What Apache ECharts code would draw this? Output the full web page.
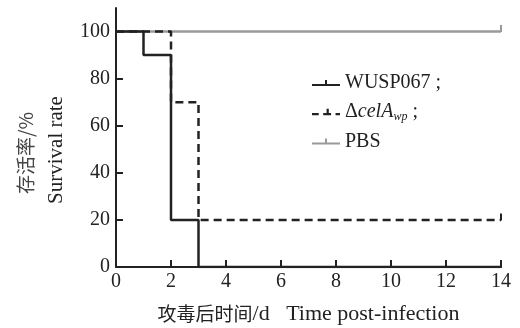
<!DOCTYPE html>
<html lang="zh">
<head>
    <meta charset="UTF-8">
    <script src="https://cdn.jsdelivr.net/npm/echarts@6/dist/echarts.min.js"></script>
    <style>
        html, body { margin: 0; padding: 0; background: #fff; }
        #chart { width: 520px; height: 328px; }
    </style>
</head>
<body>
<div id="chart"></div>
<script>
    // 存活曲线数据 (天, 存活率%)
    var days = [0, 1, 2, 3, 14];
    var wusp = [100, 90, 20, 0, 0];
    var delta = [100, 100, 70, 20, 20];
    var pbs = [100, 100, 100, 100, 100];
    var yTicks = [0, 20, 40, 60, 80, 100];
    var names = ['WUSP067', 'ΔcelA', 'PBS'];

    var serif = "'Liberation Serif', 'Noto Sans CJK SC', serif";
    var cjk = "'Noto Sans CJK SC', serif";
    var censor = 'path://M0,0 L2,0 L2,8 L0,8 Z';
    // 图例图标: 线段 + 截尾刻度
    var iconSolid = 'path://M0,8 L28,8 L28,10 L0,10 Z M13,4 L15,4 L15,8 L13,8 Z';
    var iconDash = 'path://M0,8 L6,8 L6,10 L0,10 Z M10,8 L17,8 L17,10 L10,10 Z M13,4 L15,4 L15,8 L13,8 Z M21,8 L25,8 L25,10 L21,10 Z';

    function pts(vals) {
        return days.map(function (d, i) {
            var last = i === days.length - 1;
            return {
                value: [d, vals[i]],
                symbol: last ? censor : 'none',
                symbolSize: last ? [2, 7] : 0
            };
        });
    }

    var mCharts = echarts.init(document.getElementById('chart'));
    var option = {
        animation: false,
        grid: { left: 116, right: 19, top: 8, bottom: 61, outerBoundsMode: 'none' },
        xAxis: {
            type: 'value',
            min: 0, max: 14, interval: 2,
            name: '{c|攻毒后时间}{l|/d   Time post-infection}',
            nameLocation: 'middle',
            nameGap: 36,
            nameTextStyle: {
                rich: {
                    c: { fontFamily: cjk, fontSize: 19, color: '#222' },
                    l: { fontFamily: serif, fontSize: 22, color: '#222' }
                }
            },
            axisLine: { lineStyle: { color: '#222', width: 2 } },
            axisTick: { inside: true, length: 7, lineStyle: { color: '#222', width: 2 } },
            axisLabel: { fontFamily: serif, fontSize: 20, color: '#222', margin: 5 },
            splitLine: { show: false }
        },
        yAxis: {
            type: 'value',
            min: 0, max: 110,
            axisLine: { show: true, lineStyle: { color: '#222', width: 2 } },
            axisTick: { show: true, inside: true, length: 7, customValues: yTicks, lineStyle: { color: '#222', width: 2 } },
            axisLabel: { fontFamily: serif, fontSize: 20, color: '#222', margin: 6, customValues: yTicks },
            splitLine: { show: false }
        },
        graphic: [
            {
                type: 'text', x: 26, y: 153, rotation: Math.PI / 2,
                style: { text: '存活率/%', font: '19px ' + cjk, fill: '#444', align: 'center', verticalAlign: 'middle' }
            },
            {
                type: 'text', x: 56, y: 150, rotation: Math.PI / 2,
                style: { text: 'Survival rate', font: '21px ' + serif, fill: '#222', align: 'center', verticalAlign: 'middle' }
            }
        ],
        legend: {
            orient: 'vertical',
            left: 307, top: 68,
            itemWidth: 28, itemHeight: 12, itemGap: 9,
            data: [
                { name: names[0], icon: iconSolid },
                { name: names[1], icon: iconDash },
                { name: names[2], icon: iconSolid }
            ],
            textStyle: {
                fontFamily: serif, fontSize: 20, color: '#222',
                rich: {
                    n: { fontFamily: serif, fontSize: 20, color: '#222' },
                    i: { fontFamily: serif, fontSize: 20, fontStyle: 'italic', color: '#222' },
                    s: { fontFamily: serif, fontSize: 12, fontStyle: 'italic', color: '#222', padding: [9, 0, 0, 0] }
                }
            },
            formatter: function (name) {
                if (name === 'ΔcelA') return '{n|Δ}{i|celA}{s|wp}{n| ;}';
                if (name === 'WUSP067') return '{n|WUSP067 ;}';
                return '{n|' + name + '}';
            }
        },
        series: [
            {
                name: names[2], type: 'line', step: 'end',
                symbol: censor, symbolSize: [2, 7], symbolOffset: [0, -3],
                data: pts(pbs),
                lineStyle: { color: '#999', width: 2.5 },
                itemStyle: { color: '#999' }
            },
            {
                name: names[1], type: 'line', step: 'end',
                symbol: censor, symbolSize: [2, 7], symbolOffset: [0, -3],
                data: pts(delta),
                lineStyle: { color: '#222', width: 2.5, type: [8, 5] },
                itemStyle: { color: '#222' }
            },
            {
                name: names[0], type: 'line', step: 'end',
                symbol: censor, symbolSize: [2, 7], symbolOffset: [0, -3],
                data: pts(wusp),
                lineStyle: { color: '#222', width: 2.5 },
                itemStyle: { color: '#222' }
            }
        ]
    };
    mCharts.setOption(option);
</script>
</body>
</html>
